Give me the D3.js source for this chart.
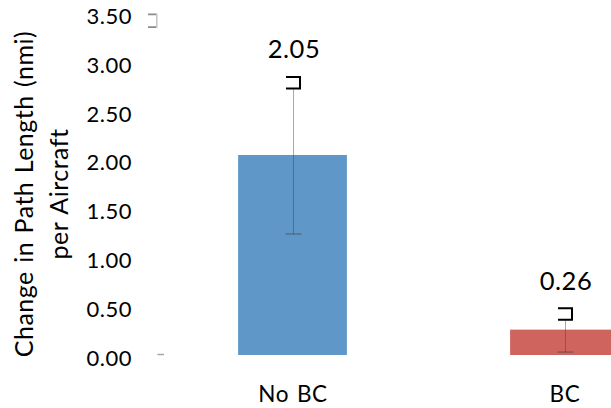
<!DOCTYPE html>
<html>
<head>
<meta charset="utf-8">
<script src="https://cdn.jsdelivr.net/npm/d3@7"></script>
<style>
  html, body { margin: 0; padding: 0; background: #fff; }
  svg { display: block; font-family: Lato, "Open Sans", sans-serif; }
</style>
</head>
<body>
<svg id="chart" width="611" height="408"></svg>
<script>
// ---- data ----
const categories = ["No BC", "BC"];
const values = [2.05, 0.26];
const errors = [0.81, 0.23];
const valueLabels = ["2.05", "0.26"];
const yTicks = [0, 0.5, 1, 1.5, 2, 2.5, 3, 3.5];
const titleLines = ["Change in Path Length (nmi)", "per Aircraft"];
const barColors = ["#6097c9", "#cf645f"];

// ---- layout ----
const svg = d3.select("#chart");
const y = d3.scaleLinear().domain([0, 3.5]).range([355, 13.5]);
const x = d3.scaleBand().domain(categories).range([156.5, 700.5])
  .paddingInner(0.6).paddingOuter(0.3);

// y tick labels
const yAxis = d3.axisLeft(y).tickValues(yTicks).tickFormat(d3.format(".2f")).tickSize(0).tickPadding(0);
const gy = svg.append("g").attr("transform", "translate(132,3)").call(yAxis);
gy.select(".domain").remove();
gy.selectAll("text").attr("font-size", 22).attr("fill", "#000")
  .attr("letter-spacing", 0.5)
  .attr("font-family", "Lato, 'Open Sans', sans-serif");

// axis artefacts: small tick at 0 and bracket at top
svg.append("line").attr("x1", 157.5).attr("x2", 164).attr("y1", y(0) - 0.5).attr("y2", y(0) - 0.5)
  .attr("stroke", "#a6a6a6").attr("stroke-width", 1.5);
const topY = y(3.5);
svg.append("path")
  .attr("d", `M148,${topY + 0.8}H156.5M148,${topY + 13.6}H156.5`)
  .attr("stroke", "#8c8c8c").attr("stroke-width", 1.8).attr("fill", "none");
svg.append("line").attr("x1", 156.8).attr("x2", 156.8).attr("y1", topY).attr("y2", topY + 14.4)
  .attr("stroke", "#c4c4c4").attr("stroke-width", 1.5);

// bars
svg.append("g").selectAll("rect").data(categories).join("rect")
  .attr("x", d => x(d))
  .attr("width", x.bandwidth())
  .attr("y", (d, i) => y(values[i]))
  .attr("height", (d, i) => y(0) - y(values[i]))
  .attr("fill", (d, i) => barColors[i]);

// error bars
const eg = svg.append("g");
categories.forEach((c, i) => {
  const cx = Math.round(x(c) + x.bandwidth() / 2) + 0.5;
  const lo = y(values[i] - errors[i]);
  const hi = y(values[i] + errors[i]);
  eg.append("line").attr("x1", cx).attr("x2", cx).attr("y1", lo).attr("y2", hi + 13.5)
    .attr("stroke", "#404040").attr("stroke-opacity", 0.45).attr("stroke-width", 1);
  eg.append("line").attr("x1", cx - 8).attr("x2", cx + 8).attr("y1", lo).attr("y2", lo)
    .attr("stroke", "#404040").attr("stroke-opacity", 0.45).attr("stroke-width", 1.5);
  eg.append("path")
    .attr("d", `M${cx - 7.5},${hi + 1}H${cx + 6.5}V${hi + 12.5}H${cx - 7.5}`)
    .attr("stroke", "#000").attr("stroke-width", 2).attr("fill", "none");
  // value label
  svg.append("text").attr("x", cx + 0.5).attr("y", hi - 17.5)
    .attr("text-anchor", "middle").attr("font-size", 25.5).attr("fill", "#000")
    .attr("letter-spacing", 0.5)
    .text(valueLabels[i]);
});

// category labels
svg.append("g").selectAll("text").data(categories).join("text")
  .attr("x", d => x(d) + x.bandwidth() / 2 + 0.5)
  .attr("y", 402)
  .attr("text-anchor", "middle").attr("font-size", 22.5).attr("fill", "#000")
  .attr("letter-spacing", 0.6).attr("word-spacing", 1.5)
  .text(d => d);

// axis title
const tg = svg.append("g").attr("transform", "translate(0,194) rotate(-90)");
titleLines.forEach((t, i) => {
  tg.append("text").attr("x", 0).attr("y", 33 + i * 35)
    .attr("text-anchor", "middle").attr("font-size", 25).attr("fill", "#000")
    .attr("letter-spacing", 0.5).attr("word-spacing", 1.5)
    .text(t);
});
</script>
</body>
</html>
